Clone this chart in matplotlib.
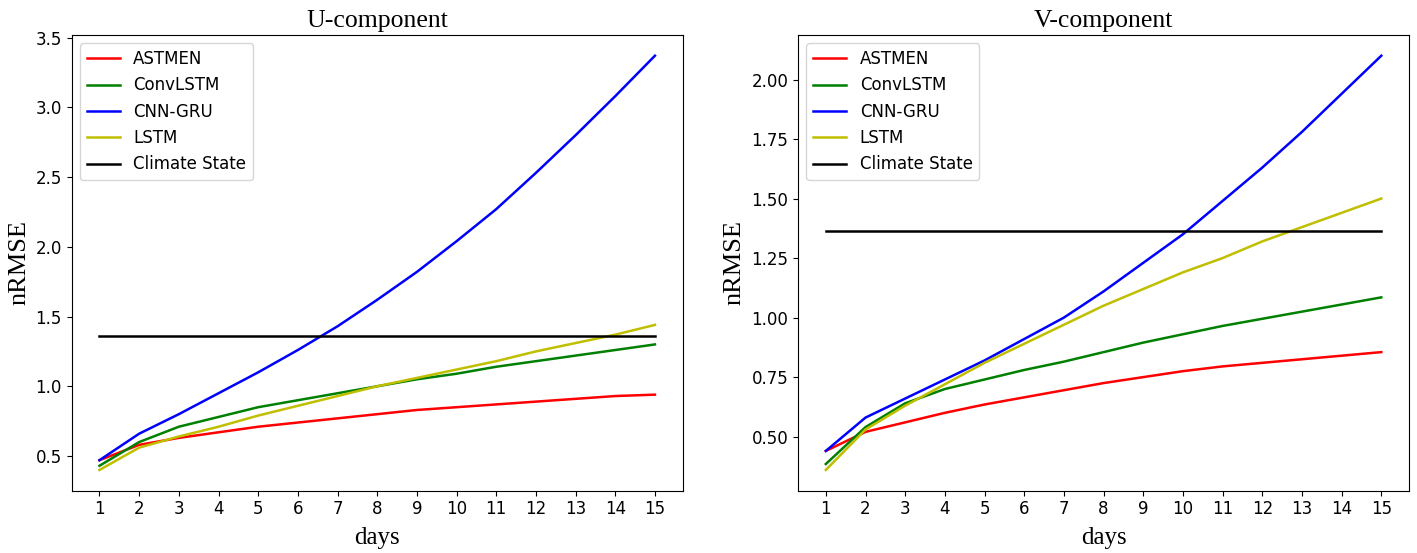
import matplotlib
matplotlib.use('Agg')
import matplotlib.pyplot as plt

days = list(range(1, 16))

# U-component nRMSE
u_astmen = [0.47, 0.58, 0.63, 0.67, 0.71, 0.74, 0.77, 0.80, 0.83, 0.85, 0.87, 0.89, 0.91, 0.93, 0.94]
u_convlstm = [0.43, 0.60, 0.71, 0.78, 0.85, 0.90, 0.95, 1.00, 1.05, 1.09, 1.14, 1.18, 1.22, 1.26, 1.30]
u_cnngru = [0.47, 0.66, 0.80, 0.95, 1.10, 1.26, 1.43, 1.62, 1.82, 2.04, 2.27, 2.53, 2.80, 3.08, 3.37]
u_lstm = [0.40, 0.56, 0.64, 0.71, 0.79, 0.86, 0.93, 1.00, 1.06, 1.12, 1.18, 1.25, 1.31, 1.37, 1.44]
u_climate = 1.36

# V-component nRMSE
v_astmen = [0.44, 0.52, 0.56, 0.60, 0.635, 0.665, 0.695, 0.725, 0.75, 0.775, 0.795, 0.81, 0.825, 0.84, 0.855]
v_convlstm = [0.385, 0.54, 0.64, 0.70, 0.74, 0.78, 0.815, 0.855, 0.895, 0.93, 0.965, 0.995, 1.025, 1.055, 1.085]
v_cnngru = [0.44, 0.58, 0.66, 0.74, 0.82, 0.91, 1.00, 1.11, 1.23, 1.35, 1.49, 1.63, 1.78, 1.94, 2.10]
v_lstm = [0.36, 0.53, 0.63, 0.72, 0.81, 0.89, 0.97, 1.05, 1.12, 1.19, 1.25, 1.32, 1.38, 1.44, 1.50]
v_climate = 1.365

fig = plt.figure(figsize=(14.17, 5.53), dpi=100)
ax1 = fig.add_axes([0.0506, 0.1127, 0.4312, 0.824])
ax2 = fig.add_axes([0.5632, 0.1127, 0.4312, 0.824])

panels = [
    (ax1, 'U-component', u_astmen, u_convlstm, u_cnngru, u_lstm, u_climate),
    (ax2, 'V-component', v_astmen, v_convlstm, v_cnngru, v_lstm, v_climate),
]

serif = 'Liberation Serif'
for ax, title, astmen, convlstm, cnngru, lstm, climate in panels:
    ax.plot(days, astmen, color='r', lw=1.8, label='ASTMEN')
    ax.plot(days, convlstm, color='g', lw=1.8, label='ConvLSTM')
    ax.plot(days, cnngru, color='b', lw=1.8, label='CNN-GRU')
    ax.plot(days, lstm, color='y', lw=1.8, label='LSTM')
    ax.plot(days, [climate] * len(days), color='k', lw=1.8, label='Climate State')
    ax.set_xticks(days)
    ax.tick_params(labelsize=12)
    ax.set_title(title, family=serif, fontsize=18.5, pad=6)
    ax.set_xlabel('days', family=serif, fontsize=18, labelpad=6)
    ax.set_ylabel('nRMSE', family=serif, fontsize=19, labelpad=4)
    ax.legend(loc='upper left', fontsize=12)

ax2.set_yticks([0.5, 0.75, 1.0, 1.25, 1.5, 1.75, 2.0])
ax2.set_yticklabels(['0.50', '0.75', '1.00', '1.25', '1.50', '1.75', '2.00'])

fig.savefig('out.png', dpi=100)
